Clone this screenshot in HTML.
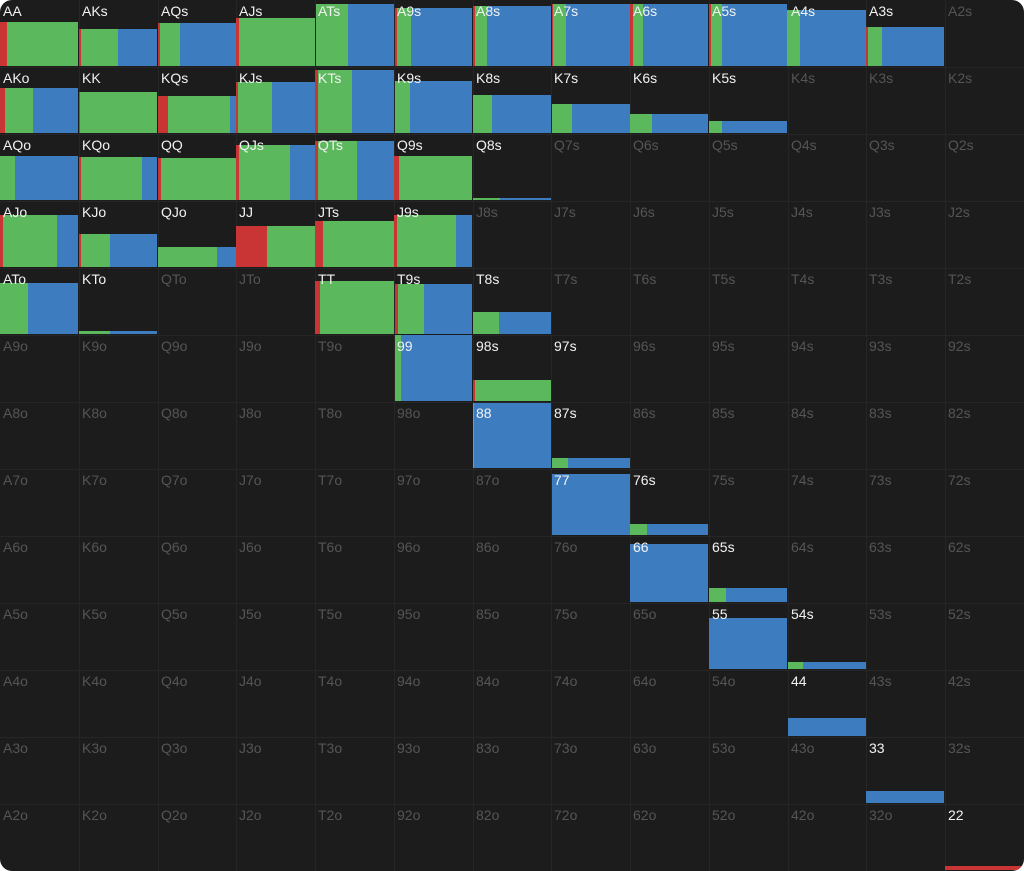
<!DOCTYPE html>
<html><head><meta charset="utf-8"><style>
html,body{margin:0;padding:0;background:#fff;}
#g{position:relative;width:1024px;height:871px;background:#1c1c1c;border-radius:12px;overflow:hidden;font-family:"Liberation Sans",sans-serif;}
.c{position:absolute;box-sizing:border-box;border-right:1px solid #262626;border-bottom:1px solid #262626;}
.b{position:absolute;}
.l{position:absolute;font-size:14px;line-height:16px;z-index:5;}
</style></head><body><div id="g"></div>
<script>
var R="AKQJT98765432",g=document.getElementById('g');
var W=1024/13,H=67;
var C={r:'#c93434',g:'#5cb85c',b:'#3d7dbf'};
// key: [top, [color,x0,x1]...]
var D={
'0,0':[22,['r',0,7],['g',7,78]],
'0,1':[29,['r',79,81],['g',81,118],['b',118,157]],
'0,2':[23,['r',158,160],['g',160,180],['b',180,236]],
'0,3':[18,['r',236,239],['g',239,315]],
'0,4':[4,['g',316,348],['b',348,394]],
'0,5':[8,['r',395,397],['g',397,411],['b',411,472]],
'0,6':[6,['r',473,475],['g',475,487],['b',487,551]],
'0,7':[4,['r',552,553],['g',553,566],['b',566,630]],
'0,8':[4,['r',630,633],['g',633,643],['b',643,708]],
'0,9':[4,['r',709,711],['g',711,722],['b',722,787]],
'0,10':[10,['g',787,800],['b',800,866]],
'0,11':[27,['r',866,868],['g',868,882],['b',882,944]],
'1,0':[88,['r',0,5],['g',5,33],['b',33,78]],
'1,1':[92,['r',79,80],['g',80,157]],
'1,2':[96,['r',158,168],['g',168,230],['b',230,236]],
'1,3':[82,['r',236,238],['g',238,272],['b',272,315]],
'1,4':[70,['r',315,318],['g',318,352],['b',352,394]],
'1,5':[81,['g',395,410],['b',410,472]],
'1,6':[95,['g',473,492],['b',492,551]],
'1,7':[104,['g',552,572],['b',572,630]],
'1,8':[114,['g',630,652],['b',652,708]],
'1,9':[121,['g',709,722],['b',722,787]],
'2,0':[156,['g',0,15],['b',15,78]],
'2,1':[157,['r',79,81],['g',81,142],['b',142,157]],
'2,2':[158,['r',158,161],['g',161,236]],
'2,3':[145,['r',236,239],['g',239,290],['b',290,315]],
'2,4':[141,['r',315,318],['g',318,357],['b',357,394]],
'2,5':[156,['r',394,399],['g',399,472]],
'2,6':[198,['g',473,500],['b',500,551]],
'3,0':[215,['r',0,3],['g',3,57],['b',57,78]],
'3,1':[234,['r',79,81],['g',81,110],['b',110,157]],
'3,2':[247,['g',158,217],['b',217,236]],
'3,3':[226,['r',236,267],['g',267,315]],
'3,4':[221,['r',315,323],['g',323,394]],
'3,5':[215,['r',394,397],['g',397,456],['b',456,472]],
'4,0':[283,['g',0,28],['b',28,78]],
'4,1':[331,['g',79,110],['b',110,157]],
'4,4':[281,['r',315,320],['g',320,394]],
'4,5':[284,['r',395,398],['g',398,424],['b',424,472]],
'4,6':[312,['g',473,499],['b',499,551]],
'5,5':[335,['g',395,401],['b',401,472]],
'5,6':[380,['r',473,475],['g',475,551]],
'5,7':[999],
'6,6':[403,['g',473,474],['b',474,551]],
'6,7':[458,['g',552,568],['b',568,630]],
'7,7':[474,['b',552,630]],
'7,8':[524,['g',630,647],['b',647,708]],
'8,8':[544,['b',630,708]],
'8,9':[588,['g',709,726],['b',726,787]],
'9,9':[618,['b',709,787]],
'9,10':[662,['g',788,803],['b',803,866]],
'10,10':[718,['b',788,866]],
'11,11':[791,['b',866,944]],
'12,12':[866,['r',945,1024]]
};
var h='';
for(var r=0;r<13;r++)for(var c=0;c<13;c++){
 var x=Math.round(c*W),x2=Math.round((c+1)*W),y=r*H;
 var n=r==c?R[r]+R[c]:(c>r?R[r]+R[c]+'s':R[c]+R[r]+'o');
 h+='<div class="c" style="left:'+x+'px;top:'+y+'px;width:'+(x2-x+1)+'px;height:'+(H+1)+'px"></div>';
 var d=D[r+','+c];
 if(d){for(var i=1;i<d.length;i++){var s=d[i];
  h+='<div class="b" style="background:'+C[s[0]]+';left:'+s[1]+'px;width:'+(s[2]-s[1])+'px;top:'+d[0]+'px;height:'+(y+H-1-d[0])+'px"></div>';}}
 h+='<div class="l" style="left:'+(x+3)+'px;top:'+(y+3)+'px;color:'+(d?'#f2f2f2':'#555')+'">'+n+'</div>';
}
g.innerHTML=h;
</script></body></html>
